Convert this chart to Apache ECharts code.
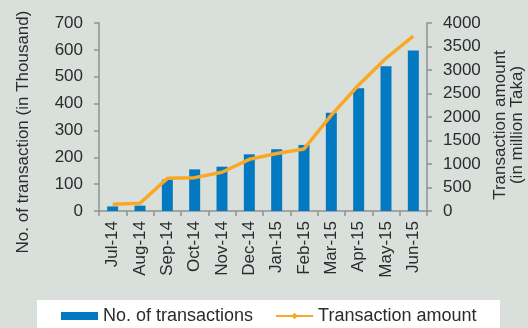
<!DOCTYPE html>
<html>
<head>
<meta charset="utf-8">
<script src="https://cdn.jsdelivr.net/npm/echarts@6/dist/echarts.min.js"></script>
<style>
  html, body { margin: 0; padding: 0; background: #d9e0dc; }
  #chart { width: 528px; height: 328px; }
</style>
</head>
<body>
<div id="chart"></div>
<script>
// Monthly mobile financial service activity, Jul-14 to Jun-15
const months = ['Jul-14', 'Aug-14', 'Sep-14', 'Oct-14', 'Nov-14', 'Dec-14',
                'Jan-15', 'Feb-15', 'Mar-15', 'Apr-15', 'May-15', 'Jun-15'];
// Number of transactions, in thousand
const transactions = [17, 20, 117, 155, 165, 211, 230, 246, 366, 457, 539, 598];
// Transaction amount, in million Taka
const amounts = [145, 165, 695, 710, 825, 1100, 1225, 1320, 2040, 2680, 3250, 3720];
const leftTicks = { min: 0, max: 700, interval: 100 };
const rightTicks = { min: 0, max: 4000, interval: 500 };

const font = '"Liberation Sans", Arial, sans-serif';
const axisGrey = '#8f9391';
const textColor = '#2b2b2b';

const chart = echarts.init(document.getElementById('chart'), null, { renderer: 'canvas' });
chart.setOption({
  backgroundColor: '#d9e0dc',
  textStyle: { fontFamily: font },
  animation: false,
  grid: { left: 99, right: 101, top: 23, bottom: 117, containLabel: false, outerBoundsMode: 'none' },
  // white panel behind the legend
  graphic: [{
    type: 'rect',
    left: 37, top: 300, z: 0,
    shape: { width: 463, height: 30 },
    style: { fill: '#ffffff' }
  }],
  legend: {
    left: 37, top: 300,
    padding: [7, 24, 8, 24],
    itemGap: 22,
    itemWidth: 37, itemHeight: 8,
    textStyle: { fontSize: 18, color: textColor, fontFamily: font },
    data: [
      { name: 'No. of transactions', icon: 'rect' },
      { name: 'Transaction amount' }
    ]
  },
  xAxis: {
    type: 'category',
    data: months,
    boundaryGap: true,
    axisLine: { lineStyle: { color: axisGrey, width: 1.5 } },
    axisTick: { show: true, length: 5, alignWithLabel: false, lineStyle: { color: axisGrey, width: 1.5 } },
    axisLabel: { rotate: 90, fontSize: 17, color: textColor, margin: 10, interval: 0 }
  },
  yAxis: [
    {
      type: 'value',
      min: leftTicks.min, max: leftTicks.max, interval: leftTicks.interval,
      position: 'left',
      name: 'No. of transaction (in Thousand)',
      nameLocation: 'middle',
      nameRotate: 90,
      nameGap: 67,
      nameTextStyle: { fontSize: 17, color: textColor, padding: [0, 30, 0, 0] },
      axisLine: { show: true, lineStyle: { color: axisGrey, width: 1.5 } },
      axisTick: { show: true, length: 5, lineStyle: { color: axisGrey, width: 1.5 } },
      axisLabel: { fontSize: 17, color: textColor, margin: 16 },
      splitLine: { show: false }
    },
    {
      type: 'value',
      min: rightTicks.min, max: rightTicks.max, interval: rightTicks.interval,
      position: 'right',
      name: 'Transaction amount\n(in million Taka)',
      nameLocation: 'middle',
      nameRotate: 90,
      nameGap: 62,
      nameTextStyle: { fontSize: 17, color: textColor, lineHeight: 17, padding: [0, 16, 0, 0] },
      axisLine: { show: true, lineStyle: { color: axisGrey, width: 1.5 } },
      axisTick: { show: true, length: 5, lineStyle: { color: axisGrey, width: 1.5 } },
      axisLabel: { fontSize: 17, color: textColor, margin: 16, formatter: v => String(v) },
      splitLine: { show: false }
    }
  ],
  series: [
    {
      name: 'No. of transactions',
      type: 'bar',
      yAxisIndex: 0,
      data: transactions,
      barWidth: 11,
      itemStyle: { color: '#0279c1' }
    },
    {
      name: 'Transaction amount',
      type: 'line',
      yAxisIndex: 1,
      data: amounts,
      symbol: 'diamond',
      symbolSize: 8,
      showSymbol: false,
      lineStyle: { color: '#f8a825', width: 3.5 },
      itemStyle: { color: '#f8a825' }
    }
  ]
});
</script>
</body>
</html>
